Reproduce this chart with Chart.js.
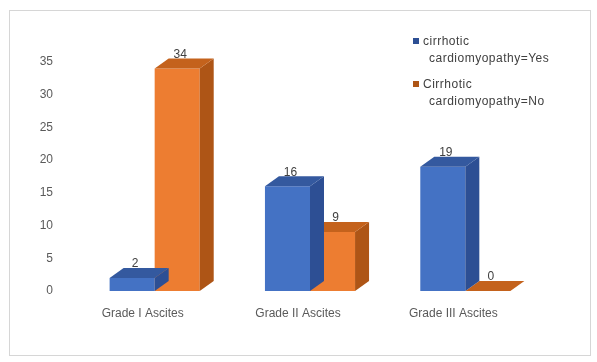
<!DOCTYPE html>
<html>
<head>
<meta charset="utf-8">
<script src="https://cdn.jsdelivr.net/npm/chart.js@4"></script>
<style>
  html, body { margin: 0; padding: 0; background: #fff; }
  #wrap { position: relative; width: 597px; height: 362px; overflow: hidden; }
  #frame { position: absolute; left: 9px; top: 10px; width: 580px; height: 344px; border: 1px solid #d6d6d6; }
  #chart { position: absolute; left: 0; top: 0; }
  #legend { position: absolute; left: 413px; top: 33px; font: 12px "Liberation Sans", Arial, sans-serif; letter-spacing: 0.5px; color: #404040; }
  .item { position: relative; padding-left: 10px; line-height: 17px; margin-bottom: 9px; width: 170px; }
  .item .box { position: absolute; left: 0; top: 5px; width: 6px; height: 6px; }
  .item .rest { display: block; padding-left: 6px; }
</style>
</head>
<body>
<div id="wrap">
  <div id="frame"></div>
  <canvas id="chart" width="597" height="362"></canvas>
  <div id="legend"></div>
</div>
<script>
const categories = ['Grade I Ascites', 'Grade II Ascites', 'Grade III Ascites'];
const yesCounts = [2, 16, 19];
const noCounts = [34, 9, 0];
const seriesNames = [['cirrhotic', 'cardiomyopathy=Yes'], ['Cirrhotic', 'cardiomyopathy=No']];
const yMax = 35;
const yStep = 5;

// front / side / top shades for each series
const faces = [
  { front: '#4472c4', side: '#2d4f94', top: '#34599f' },
  { front: '#ed7d31', side: '#ae5516', top: '#c4621c' }
];
const depthX = 14;
const depthY = 10;
const fontFamily = '"Liberation Sans", Arial, sans-serif';

// extrude every bar to the upper right after its dataset is drawn
const bars3d = {
  id: 'bars3d',
  afterDatasetDraw(chart, args) {
    const ctx = chart.ctx;
    const f = faces[args.index];
    args.meta.data.forEach((bar, i) => {
      const half = bar.width / 2;
      const l = bar.x - half, r = bar.x + half;
      const top = bar.y, base = bar.base;
      ctx.save();
      ctx.fillStyle = f.side;
      ctx.beginPath();
      ctx.moveTo(r, top);
      ctx.lineTo(r + depthX, top - depthY);
      ctx.lineTo(r + depthX, base - depthY);
      ctx.lineTo(r, base);
      ctx.closePath();
      ctx.fill();
      ctx.fillStyle = f.top;
      ctx.beginPath();
      ctx.moveTo(l, top);
      ctx.lineTo(l + depthX, top - depthY);
      ctx.lineTo(r + depthX, top - depthY);
      ctx.lineTo(r, top);
      ctx.closePath();
      ctx.fill();
      // value label above the top face
      const v = chart.data.datasets[args.index].data[i];
      ctx.fillStyle = '#404040';
      ctx.font = '12px ' + fontFamily;
      ctx.textAlign = 'center';
      ctx.textBaseline = 'bottom';
      ctx.fillText(String(v), bar.x + depthX / 2 - 4, top - depthY + 2);
      ctx.restore();
    });
  }
};

const ctx = document.getElementById('chart').getContext('2d');
ctx.letterSpacing = '0.5px';
new Chart(ctx, {
  type: 'bar',
  data: {
    labels: categories,
    datasets: [
      { label: seriesNames[0].join(' '), data: yesCounts, backgroundColor: faces[0].front },
      { label: seriesNames[1].join(' '), data: noCounts, backgroundColor: faces[1].front }
    ]
  },
  options: {
    responsive: false,
    animation: false,
    categoryPercentage: 0.58,
    barPercentage: 1.0,
    layout: { padding: { left: 27, right: 54, top: 62, bottom: 31 } },
    plugins: { legend: { display: false }, tooltip: { enabled: false } },
    scales: {
      x: {
        grid: { display: false },
        border: { display: false },
        ticks: {
          color: '#5a5a5a',
          font: { size: 12, family: fontFamily },
          labelOffset: -12,
          padding: 7,
          maxRotation: 0
        },
        afterFit(scale) { scale.height = 40; }
      },
      y: {
        min: 0,
        max: yMax,
        grid: { display: false },
        border: { display: false },
        ticks: {
          stepSize: yStep,
          color: '#5a5a5a',
          font: { size: 12, family: fontFamily },
          padding: 16
        },
        afterFit(scale) { scale.width = 50; }
      }
    }
  },
  plugins: [bars3d]
});

// legend with the wrapped series names
const legend = document.getElementById('legend');
seriesNames.forEach((name, i) => {
  const item = document.createElement('div');
  item.className = 'item';
  item.innerHTML = '<span class="box" style="background:' + faces[i].side + '"></span>' +
    name[0] + '<span class="rest">' + name[1] + '</span>';
  legend.appendChild(item);
});
</script>
</body>
</html>
